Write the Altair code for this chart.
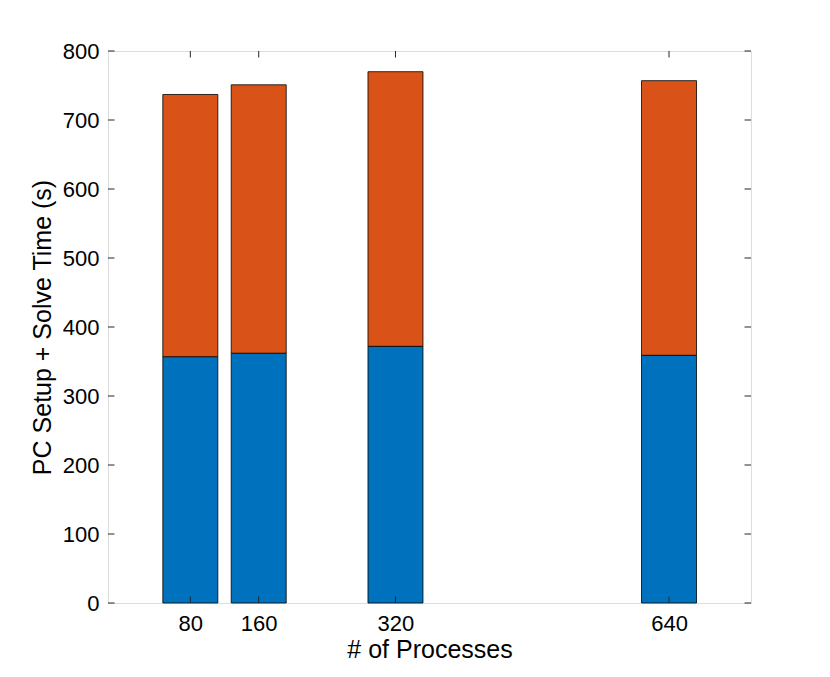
import altair as alt
import pandas as pd

procs = [80, 160, 320, 640]
setup_time = [357, 362, 372, 359]
solve_time = [380, 389, 398, 398]
series_names = ["PC Setup", "Solve"]
series_colors = ["#0072BD", "#D95319"]
y_ticks = [0, 100, 200, 300, 400, 500, 600, 700, 800]

rows = []
for p, a, b in zip(procs, setup_time, solve_time):
    rows.append({"procs": p, "series": series_names[0], "time": a, "ord": 0})
    rows.append({"procs": p, "series": series_names[1], "time": b, "ord": 1})
df = pd.DataFrame(rows)

W, H = 643, 552
XDOM = [-16.3, 735.9]
YDOM = [0, 800]
FONT = "Liberation Sans"
AXC = "#262626"
TL = 6.5

xs = alt.Scale(domain=XDOM, nice=False, zero=False, padding=0)
ys = alt.Scale(domain=YDOM, nice=False, padding=0)

bars = alt.Chart(df).mark_bar(size=55, stroke="black", strokeWidth=0.8).encode(
    x=alt.X("procs:Q", scale=xs,
            axis=alt.Axis(values=procs, format="d", title="# of Processes",
                          ticks=False, domain=False, grid=False,
                          labelPadding=10, titlePadding=3,
                          labelFontSize=22, titleFontSize=25,
                          titleFontWeight="normal")),
    y=alt.Y("time:Q", stack="zero", scale=ys,
            axis=alt.Axis(values=y_ticks, title="PC Setup + Solve Time (s)",
                          ticks=False, domain=False, grid=False,
                          labelPadding=9, titlePadding=7,
                          labelFontSize=22, titleFontSize=25,
                          titleFontWeight="normal")),
    color=alt.Color("series:N", scale=alt.Scale(domain=series_names, range=series_colors), legend=None),
    order=alt.Order("ord:Q", sort="ascending"),
)

ydf = pd.DataFrame({"v": y_ticks})
xdf = pd.DataFrame({"p": procs})

yl = alt.Chart(ydf).mark_rule(color=AXC, strokeWidth=1).encode(
    y=alt.Y("v:Q", scale=ys), x=alt.value(0), x2=alt.value(TL))
yr = alt.Chart(ydf).mark_rule(color=AXC, strokeWidth=1).encode(
    y=alt.Y("v:Q", scale=ys), x=alt.value(W), x2=alt.value(W - TL))
xb = alt.Chart(xdf).mark_rule(color=AXC, strokeWidth=1).encode(
    x=alt.X("p:Q", scale=xs), y=alt.value(H), y2=alt.value(H - TL))
xt = alt.Chart(xdf).mark_rule(color=AXC, strokeWidth=1).encode(
    x=alt.X("p:Q", scale=xs), y=alt.value(0), y2=alt.value(TL))

chart = alt.layer(bars, yl, yr, xb, xt).properties(
    width=W, height=H,
    autosize=alt.AutoSizeParams(type="none"),
    padding={"left": 100, "top": 43, "right": 10, "bottom": 70},
).configure_view(stroke=AXC, strokeWidth=1).configure_axis(
    labelFont=FONT, titleFont=FONT, labelColor=AXC, titleColor=AXC,
).configure(background="white")

chart.save("out.html", embed_options={"renderer": "svg", "actions": False})
